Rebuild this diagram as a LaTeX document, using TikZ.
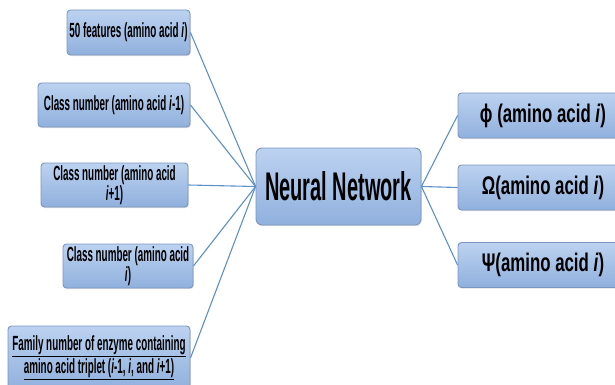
\documentclass[tikz,border=0pt]{standalone}
\usepackage{fontspec}
\setmainfont{Liberation Sans}
\newfontfamily\leftfont[FakeStretch=0.48]{Liberation Sans}
\newfontfamily\nnfont[FakeStretch=0.50]{Liberation Sans}
\newfontfamily\rightfont[FakeStretch=0.66]{Liberation Sans}
\usetikzlibrary{shadows}
\definecolor{boxtop}{HTML}{BCD2F0}
\definecolor{boxbot}{HTML}{90B0DD}
\definecolor{boxline}{HTML}{7A96BF}
\definecolor{conn}{HTML}{5E90C8}
\tikzset{
  box/.style={draw=boxline, line width=0.9pt, rounded corners=3.5pt,
    top color=boxtop, bottom color=boxbot, inner sep=2pt, align=center,
    drop shadow={shadow xshift=0.8pt, shadow yshift=-1.2pt, opacity=0.25}},
  lbox/.style={box, font=\leftfont\bfseries\fontsize{20.5}{19}\selectfont},
  rbox/.style={box, font=\rightfont\bfseries\fontsize{25.5}{27}\selectfont,
    minimum width=170pt, minimum height=45pt},
  nnbox/.style={box, font=\nnfont\bfseries\fontsize{40}{40}\selectfont,
    minimum width=165pt, minimum height=77pt, rounded corners=6pt},
  link/.style={draw=conn, line width=1.1pt}
}
\begin{document}
\begin{tikzpicture}[x=1pt, y=-1pt]
\useasboundingbox (0,0) rectangle (615,385);
\node[lbox, minimum width=123pt, minimum height=45pt] (f50) at (128.5,32.5) {50 features (amino acid \textit{i})};
\node[lbox, minimum width=152pt, minimum height=44pt] (cm1) at (114,105) {Class number (amino acid \textit{i}-1)};
\node[lbox, minimum width=147pt, minimum height=44pt] (cp1) at (114.5,185) {Class number (amino acid\\\textit{i}+1)};
\node[lbox, minimum width=130pt, minimum height=44pt] (ci) at (128,266) {Class number (amino acid\\\textit{i})};
\node[lbox, minimum width=182pt, minimum height=64pt] (fam) at (99,358) {\underline{Family number of enzyme containing}\\[1pt]\underline{amino acid triplet (\textit{i}-1, \textit{i}, and \textit{i}+1)}};
\node[nnbox] (nn) at (338.5,186.5) {Neural Network};
\node[rbox] (phi) at (543,115.5) {ϕ (amino acid \textit{i})};
\node[rbox] (omega) at (543,187.5) {Ω(amino acid \textit{i})};
\node[rbox] (psi) at (543,265) {Ψ(amino acid \textit{i})};
\foreach \n in {f50,cm1,cp1,ci,fam} \draw[link] (\n.east) -- (nn.west);
\foreach \n in {phi,omega,psi} \draw[link] (nn.east) -- (\n.west);
\end{tikzpicture}
\end{document}
